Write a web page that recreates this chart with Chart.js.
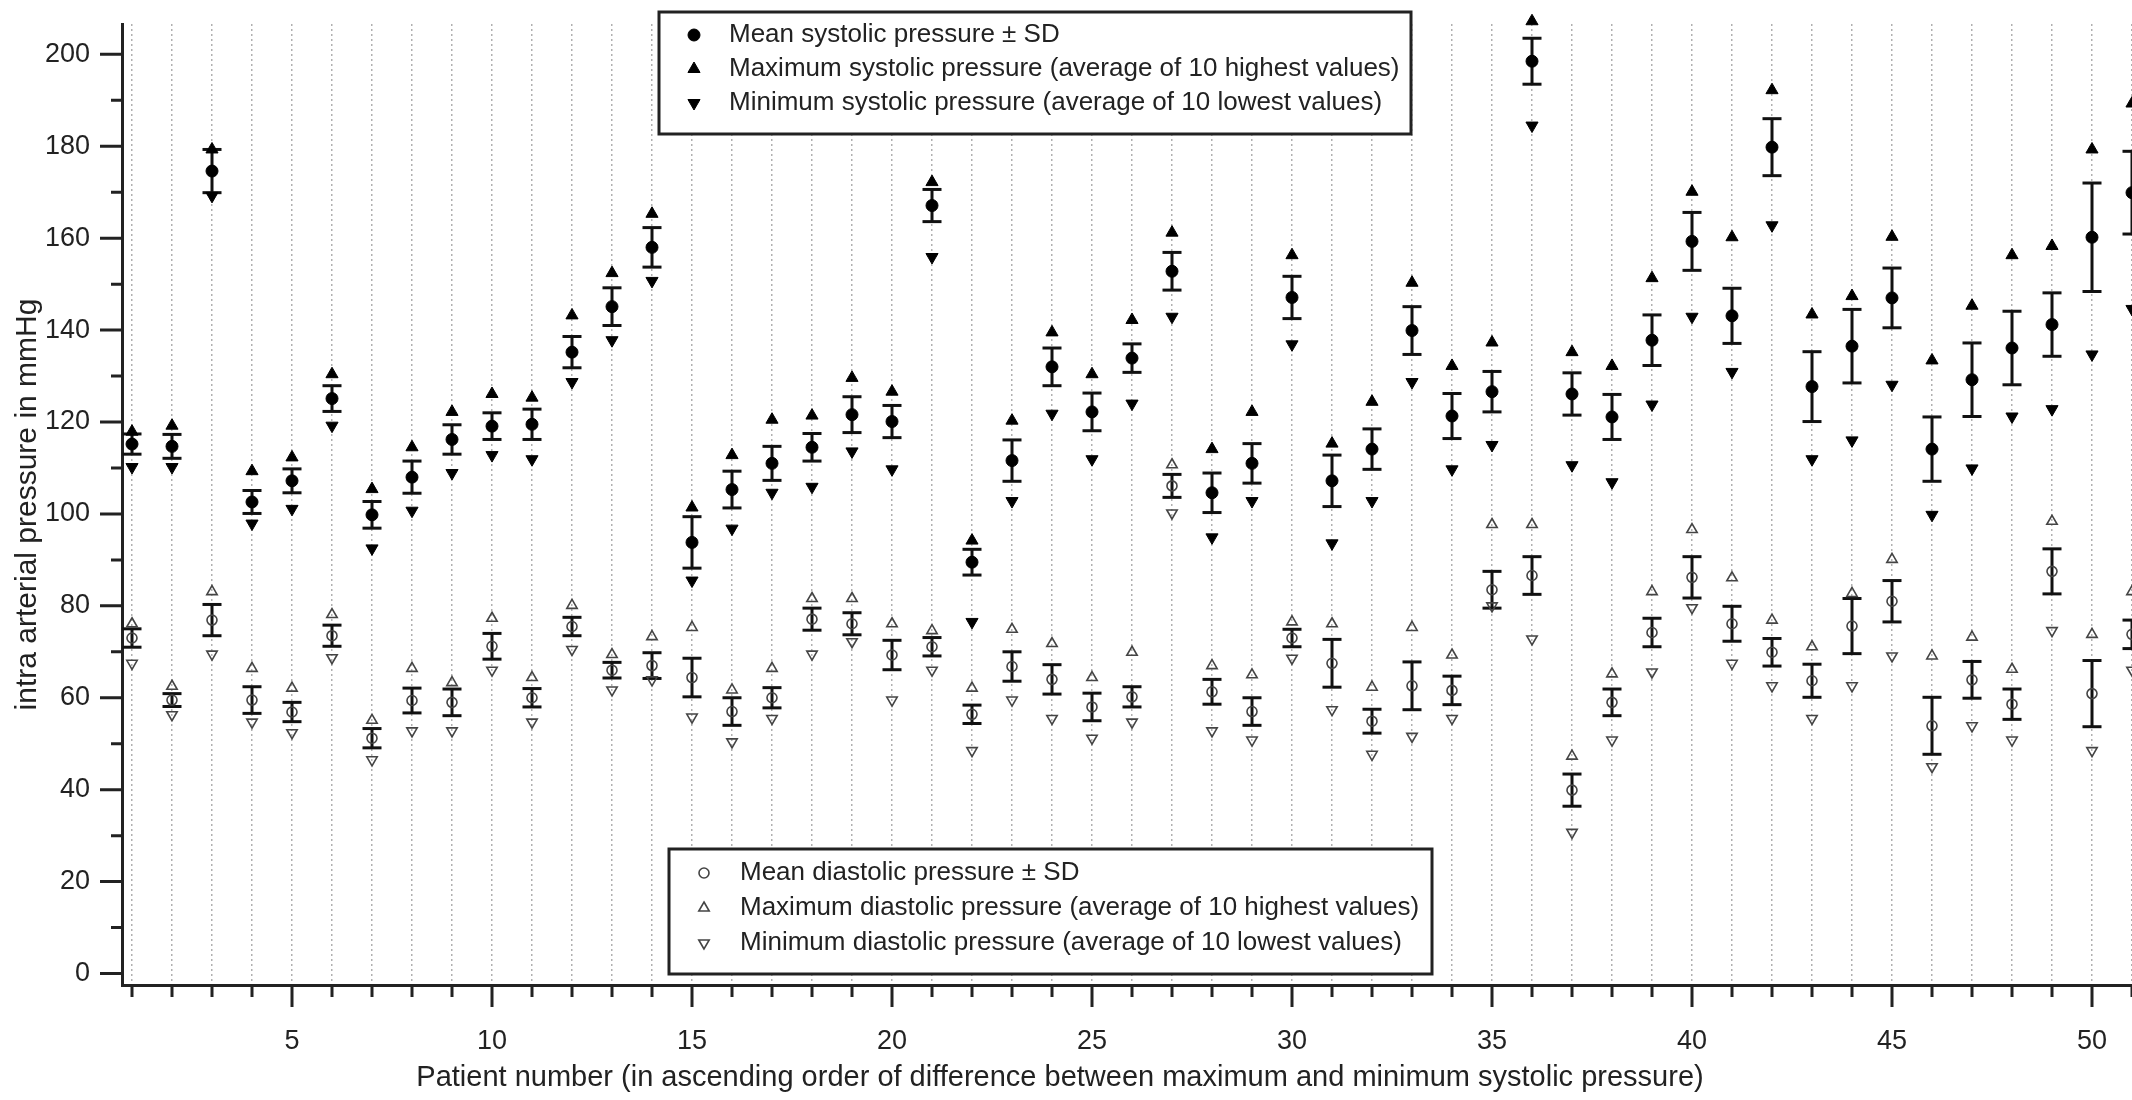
<!DOCTYPE html>
<html>
  <head>
    <script src="https://cdn.jsdelivr.net/npm/chart.js"></script>
    <style>
      body {
        margin: 0;
        background: #ffffff;
      }
    </style>
  </head>
  <body>
    <canvas id="bpChart" width="2132" height="1100"></canvas>
    <script>
      const PATIENTS = [1, 2, 3, 4, 5, 6, 7, 8, 9, 10, 11, 12, 13, 14, 15, 16, 17, 18, 19, 20, 21, 22, 23, 24, 25, 26, 27, 28, 29, 30, 31, 32, 33, 34, 35, 36, 37, 38, 39, 40, 41, 42, 43, 44, 45, 46, 47, 48, 49, 50, 51];
      const X_TICK_LABELS = [5, 10, 15, 20, 25, 30, 35, 40, 45, 50];
      const Y_TICKS = [0, 10, 20, 30, 40, 50, 60, 70, 80, 90, 100, 110, 120, 130, 140, 150, 160, 170, 180, 190, 200];
      const Y_TICK_LABELS = [0, 20, 40, 60, 80, 100, 120, 140, 160, 180, 200];

      // systolic
      const SYS_MEAN = [115.2, 114.7, 174.6, 102.6, 107.2, 125.1, 99.8, 108.0, 116.2, 119.1, 119.5, 135.2, 145.1, 158.0, 93.8, 105.3, 111.0, 114.5, 121.6, 120.1, 167.1, 89.5, 111.6, 132.0, 122.2, 133.9, 152.8, 104.6, 111.0, 147.1, 107.2, 114.1, 139.9, 121.3, 126.6, 198.5, 126.1, 121.1, 137.8, 159.3, 143.1, 179.8, 127.7, 136.5, 147.0, 114.1, 129.2, 136.1, 141.2, 160.2, 169.9];
      const SYS_SD = [2.2, 2.6, 4.7, 2.5, 2.6, 2.8, 2.9, 3.5, 3.2, 2.9, 3.3, 3.4, 4.1, 4.3, 5.6, 4.0, 3.7, 3.0, 3.9, 3.5, 3.5, 2.8, 4.5, 4.1, 4.1, 3.1, 4.1, 4.3, 4.3, 4.6, 5.6, 4.4, 5.2, 4.9, 4.4, 5.0, 4.6, 4.9, 5.5, 6.3, 6.0, 6.2, 7.6, 8.0, 6.5, 7.0, 8.0, 8.0, 6.9, 11.8, 9.0];
      const SYS_MAX = [117.9, 119.2, 179.3, 109.3, 112.3, 130.4, 105.4, 114.5, 122.2, 126.1, 125.3, 143.2, 152.4, 165.3, 101.4, 112.8, 120.5, 121.4, 129.6, 126.6, 172.2, 94.2, 120.3, 139.5, 130.4, 142.2, 161.2, 114.1, 122.2, 156.3, 115.3, 124.4, 150.3, 132.2, 137.3, 207.2, 135.2, 132.2, 151.3, 170.1, 160.2, 192.2, 143.4, 147.4, 160.3, 133.4, 145.3, 156.3, 158.3, 179.3, 189.3];
      const SYS_MIN = [110.2, 110.2, 169.2, 97.9, 101.1, 119.2, 92.5, 100.7, 108.9, 112.8, 111.9, 128.7, 137.8, 150.7, 85.5, 96.8, 104.6, 105.9, 113.6, 109.7, 155.9, 76.5, 102.8, 121.8, 111.9, 124.0, 142.9, 94.9, 102.8, 136.9, 93.6, 102.8, 128.7, 109.7, 115.0, 184.5, 110.6, 106.9, 123.8, 142.9, 130.9, 162.8, 111.9, 116.0, 128.1, 99.8, 109.9, 121.2, 122.8, 134.7, 144.6];

      // diastolic
      const DIA_MEAN = [73.0, 59.5, 76.9, 59.5, 56.9, 73.5, 51.2, 59.4, 59.0, 71.2, 60.0, 75.5, 66.0, 67.0, 64.4, 57.0, 60.0, 77.1, 76.1, 69.3, 71.1, 56.4, 66.8, 64.0, 58.0, 60.2, 106.1, 61.3, 57.0, 73.0, 67.5, 54.9, 62.6, 61.6, 83.5, 86.6, 39.9, 59.0, 74.2, 86.2, 76.1, 69.9, 63.7, 75.6, 81.0, 53.9, 63.9, 58.6, 87.5, 60.9, 73.8];
      const DIA_SD = [2.0, 1.4, 3.4, 2.9, 2.1, 2.3, 2.1, 2.7, 2.9, 2.8, 2.0, 2.0, 1.7, 2.8, 4.2, 3.0, 2.2, 2.4, 2.4, 3.2, 2.0, 2.0, 3.2, 3.2, 3.0, 2.2, 2.5, 2.7, 3.0, 1.9, 5.2, 2.6, 5.2, 3.1, 4.0, 4.1, 3.5, 2.9, 3.1, 4.5, 3.8, 3.0, 3.6, 6.0, 4.5, 6.2, 4.0, 3.3, 4.9, 7.2, 3.1];
      const DIA_MAX = [76.1, 62.5, 83.1, 66.4, 62.1, 78.1, 55.1, 66.4, 63.3, 77.3, 64.4, 80.1, 69.4, 73.3, 75.3, 61.7, 66.4, 81.6, 81.6, 76.1, 74.6, 62.1, 74.9, 71.8, 64.4, 69.9, 110.7, 67.0, 65.0, 76.5, 76.1, 62.3, 75.3, 69.3, 97.7, 97.7, 47.3, 65.2, 83.1, 96.6, 86.1, 76.9, 71.1, 82.7, 90.1, 69.1, 73.2, 66.2, 98.4, 73.8, 83.1];
      const DIA_MIN = [67.5, 56.3, 69.5, 54.7, 52.4, 68.7, 46.5, 52.8, 52.8, 66.0, 54.7, 70.5, 61.7, 63.9, 55.8, 50.4, 55.5, 69.5, 72.2, 59.5, 66.0, 48.5, 59.5, 55.5, 51.2, 54.7, 100.2, 52.8, 50.8, 68.6, 57.4, 47.7, 51.6, 55.5, 80.0, 72.8, 30.7, 50.8, 65.6, 79.6, 67.5, 62.6, 55.5, 62.6, 69.1, 45.0, 53.9, 50.8, 74.6, 48.5, 66.0];

      const X_TITLE = 'Patient number (in ascending order of difference between maximum and minimum systolic pressure)';
      const Y_TITLE = 'intra arterial pressure in mmHg';

      const FONT = '"Liberation Sans", Arial, Helvetica, sans-serif';
      const INK = '#222222';

      const toPoints = (values) => PATIENTS.map((p, i) => ({ x: p, y: values[i] }));

      // one stem + two caps per patient, broken by a null point
      const toErrorBars = (means, sds) => {
        const pts = [];
        PATIENTS.forEach((p, i) => {
          pts.push({ x: p, y: means[i] - sds[i] });
          pts.push({ x: p, y: means[i] + sds[i] });
          pts.push({ x: p, y: null });
        });
        return pts;
      };

      const filledMarker = (label, values, style, radius, rotation) => ({
        label: label,
        data: toPoints(values),
        pointStyle: style,
        pointRadius: radius,
        pointRotation: rotation,
        pointBackgroundColor: '#000000',
        pointBorderColor: '#000000',
        pointBorderWidth: 1,
        clip: false,
      });

      const openMarker = (label, values, style, radius, rotation) => ({
        label: label,
        data: toPoints(values),
        pointStyle: style,
        pointRadius: radius,
        pointRotation: rotation,
        pointBackgroundColor: 'rgba(255,255,255,0)',
        pointBorderColor: '#444444',
        pointBorderWidth: 1.6,
        clip: false,
      });

      const errorBars = (label, means, sds) => ({
        label: label,
        data: toErrorBars(means, sds),
        showLine: true,
        spanGaps: false,
        borderColor: '#111111',
        borderWidth: 3,
        pointStyle: 'line',
        pointRadius: 9.5,
        pointBorderColor: '#111111',
        pointBorderWidth: 3,
        clip: false,
      });

      const datasets = [
        filledMarker('Mean systolic pressure ± SD', SYS_MEAN, 'circle', 6, 0),
        filledMarker('Maximum systolic pressure (average of 10 highest values)', SYS_MAX, 'triangle', 7, 0),
        filledMarker('Minimum systolic pressure (average of 10 lowest values)', SYS_MIN, 'triangle', 7, 180),
        openMarker('Mean diastolic pressure ± SD', DIA_MEAN, 'circle', 5, 0),
        openMarker('Maximum diastolic pressure (average of 10 highest values)', DIA_MAX, 'triangle', 6, 0),
        openMarker('Minimum diastolic pressure (average of 10 lowest values)', DIA_MIN, 'triangle', 6, 180),
        errorBars('systolic SD', SYS_MEAN, SYS_SD),
        errorBars('diastolic SD', DIA_MEAN, DIA_SD),
      ];

      const drawLegendBox = (chart, box, indexes) => {
        const ctx = chart.ctx;
        ctx.save();
        ctx.fillStyle = '#ffffff';
        ctx.fillRect(box.x, box.y, box.w, box.h);
        ctx.lineWidth = 3;
        ctx.strokeStyle = INK;
        ctx.strokeRect(box.x, box.y, box.w, box.h);
        indexes.forEach((di, row) => {
          const ds = chart.data.datasets[di];
          const cy = box.rows[row];
          ctx.fillStyle = ds.pointBackgroundColor;
          ctx.strokeStyle = ds.pointBorderColor;
          ctx.lineWidth = ds.pointBorderWidth;
          Chart.helpers.drawPoint(ctx, {
            pointStyle: ds.pointStyle,
            radius: ds.pointRadius,
            rotation: ds.pointRotation,
            borderWidth: ds.pointBorderWidth,
          }, box.markerX, cy);
          ctx.fillStyle = INK;
          ctx.font = '26px ' + FONT;
          ctx.textAlign = 'left';
          ctx.textBaseline = 'middle';
          ctx.fillText(ds.label, box.textX, cy);
        });
        ctx.restore();
      };

      const axisDecor = {
        id: 'axisDecor',
        afterDraw(chart) {
          const { ctx, chartArea, scales } = chart;
          ctx.save();
          ctx.strokeStyle = INK;
          ctx.lineWidth = 3;
          ctx.beginPath();
          scales.x.ticks.forEach((t) => {
            const px = scales.x.getPixelForValue(t.value);
            const len = X_TICK_LABELS.includes(t.value) ? 22 : 12;
            ctx.moveTo(px, chartArea.bottom);
            ctx.lineTo(px, chartArea.bottom + len);
          });
          scales.y.ticks.forEach((t) => {
            const py = scales.y.getPixelForValue(t.value);
            const len = Y_TICK_LABELS.includes(t.value) ? 22 : 11;
            ctx.moveTo(chartArea.left, py);
            ctx.lineTo(chartArea.left - len, py);
          });
          ctx.stroke();

          ctx.fillStyle = INK;
          ctx.font = '29px ' + FONT;
          ctx.textAlign = 'center';
          ctx.textBaseline = 'middle';
          ctx.fillText(X_TITLE, 1060, 1078);
          ctx.restore();

          drawLegendBox(chart, { x: 659, y: 12, w: 752, h: 122, markerX: 694, textX: 729, rows: [35, 69, 103] }, [0, 1, 2]);
          drawLegendBox(chart, { x: 669, y: 849, w: 763, h: 125, markerX: 704, textX: 740, rows: [873, 908, 943] }, [3, 4, 5]);
        },
      };

      const config = {
        type: 'scatter',
        data: { datasets: datasets },
        plugins: [axisDecor],
        options: {
          responsive: false,
          animation: false,
          devicePixelRatio: 1,
          layout: { autoPadding: false, padding: { top: 24, left: 0, right: 0, bottom: 0 } },
          plugins: {
            legend: { display: false },
            tooltip: { enabled: false },
          },
          scales: {
            x: {
              type: 'linear',
              min: 0.75,
              max: 51,
              afterBuildTicks: (scale) => {
                scale.ticks = PATIENTS.map((p) => ({ value: p }));
              },
              afterFit: (scale) => {
                scale.height = 115;
              },
              ticks: {
                autoSkip: false,
                maxRotation: 0,
                padding: 0,
                color: INK,
                font: { family: FONT, size: 27 },
                callback: (value) => (X_TICK_LABELS.includes(value) ? String(value) : ''),
              },
              grid: {
                drawOnChartArea: true,
                drawTicks: true,
                tickLength: 40,
                tickColor: 'rgba(0,0,0,0)',
                color: '#b0b0b0',
                lineWidth: 1.5,
              },
              border: { display: true, color: INK, width: 3, dash: [2, 3] },
            },
            y: {
              type: 'linear',
              min: -2.5,
              max: 206.6,
              afterBuildTicks: (scale) => {
                scale.ticks = Y_TICKS.map((v) => ({ value: v }));
              },
              afterFit: (scale) => {
                scale.width = 122;
              },
              ticks: {
                autoSkip: false,
                padding: 0,
                color: INK,
                font: { family: FONT, size: 27 },
                callback: (value) => (Y_TICK_LABELS.includes(value) ? String(value) : ''),
              },
              grid: {
                drawOnChartArea: false,
                drawTicks: true,
                tickLength: 32,
                tickColor: 'rgba(0,0,0,0)',
              },
              border: { display: true, color: INK, width: 3 },
              title: {
                display: true,
                text: Y_TITLE,
                color: INK,
                font: { family: FONT, size: 30 },
                padding: { top: 10, bottom: 0 },
              },
            },
          },
        },
      };

      new Chart(document.getElementById('bpChart'), config);
    </script>
  </body>
</html>
